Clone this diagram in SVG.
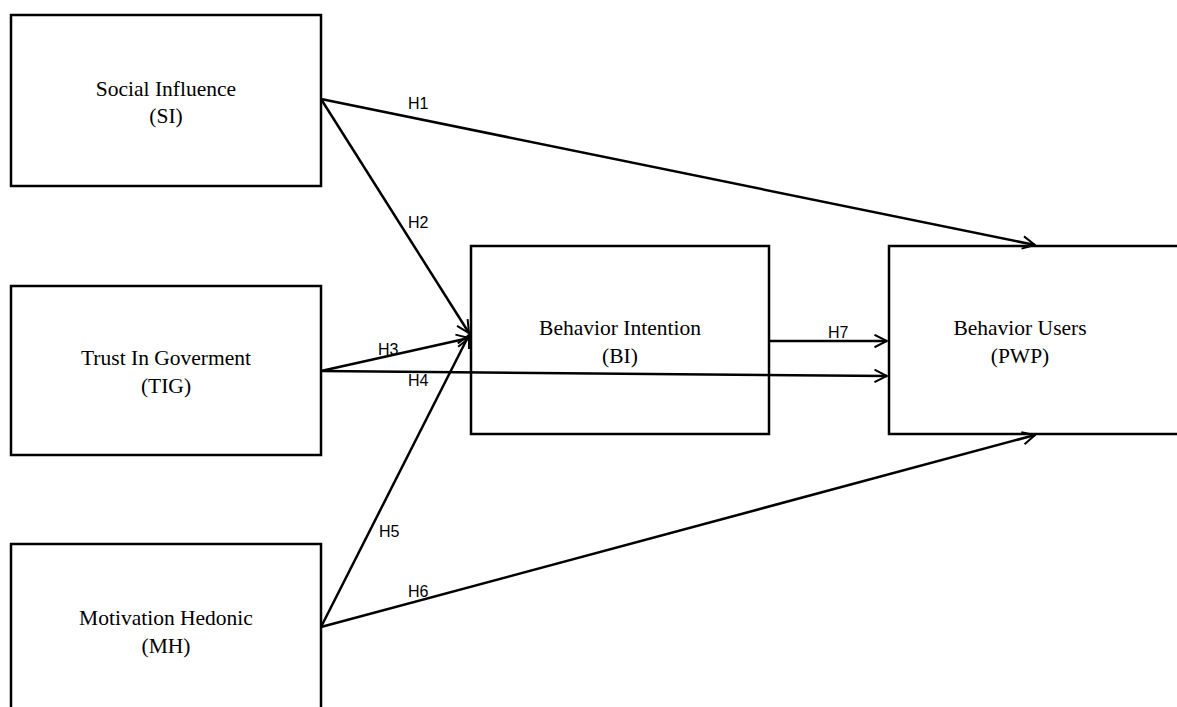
<svg xmlns="http://www.w3.org/2000/svg" width="1177" height="707" viewBox="0 0 1177 707">
<style>
.box{fill:#fff;stroke:#000;stroke-width:2.5}
.nt{font-family:"Liberation Serif",serif;font-size:21.5px;fill:#000;text-anchor:middle}
.edge{stroke:#000;stroke-width:2.5;fill:none;marker-end:url(#arr)}
.lbl{font-family:"Liberation Sans",sans-serif;font-size:16px;fill:#000}
</style>
<defs>
<marker id="arr" viewBox="0 0 12 12" refX="11" refY="6" markerWidth="6" markerHeight="6" orient="auto" markerUnits="strokeWidth">
<path d="M1,1 L11,6 L1,11" fill="none" stroke="#000" stroke-width="1.6"/>
</marker>
</defs>
<rect width="1177" height="707" fill="#fff"/>
<g id="SI">
<rect class="box" x="11" y="15" width="310" height="171"/>
<text class="nt" x="166" y="96">Social Influence</text>
<text class="nt" x="166" y="123">(SI)</text>
</g>
<g id="TIG">
<rect class="box" x="11" y="286" width="310" height="169"/>
<text class="nt" x="166" y="365">Trust In Goverment</text>
<text class="nt" x="166" y="393">(TIG)</text>
</g>
<g id="MH">
<rect class="box" x="11" y="544" width="310" height="175"/>
<text class="nt" x="166" y="625">Motivation Hedonic</text>
<text class="nt" x="166" y="653">(MH)</text>
</g>
<g id="BI">
<rect class="box" x="471" y="246" width="298" height="188"/>
<text class="nt" x="620" y="335">Behavior Intention</text>
<text class="nt" x="620" y="363">(BI)</text>
</g>
<g id="PWP">
<rect class="box" x="889" y="246" width="300" height="188"/>
<text class="nt" x="1020" y="335">Behavior Users</text>
<text class="nt" x="1020" y="363">(PWP)</text>
</g>
<g id="connectors">
<line class="edge" x1="321" y1="99" x2="1035" y2="245"/>
<line class="edge" x1="321" y1="99" x2="469" y2="333"/>
<line class="edge" x1="321" y1="371" x2="469" y2="338"/>
<line class="edge" x1="321" y1="371" x2="887" y2="376"/>
<line class="edge" x1="321" y1="627" x2="469" y2="335"/>
<line class="edge" x1="321" y1="627" x2="1035" y2="435"/>
<line class="edge" x1="770" y1="341" x2="887" y2="341"/>
<text class="lbl" x="408" y="109">H1</text>
<text class="lbl" x="408" y="228">H2</text>
<text class="lbl" x="378" y="355">H3</text>
<text class="lbl" x="408" y="386">H4</text>
<text class="lbl" x="379" y="537">H5</text>
<text class="lbl" x="408" y="597">H6</text>
<text class="lbl" x="828" y="338">H7</text>
</g>
</svg>
